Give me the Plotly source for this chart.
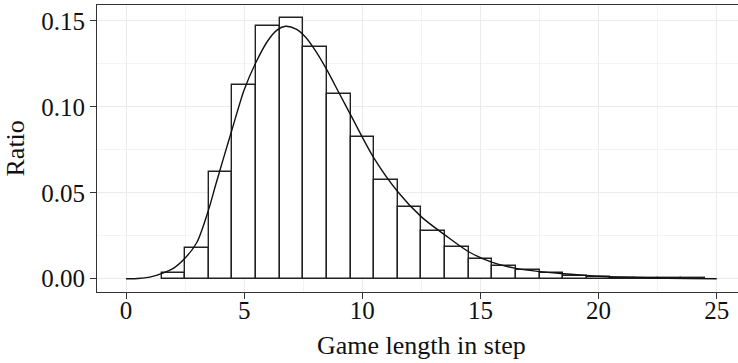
import plotly.graph_objects as go

# Histogram bars (bin centers and ratios)
bar_x = [2, 3, 4, 5, 6, 7, 8, 9, 10, 11, 12, 13, 14, 15, 16, 17, 18, 19, 20, 21, 22, 23, 24]
bar_y = [0.0035, 0.018, 0.0622, 0.1127, 0.1473, 0.152, 0.1348, 0.1073, 0.0826, 0.0574,
         0.0419, 0.0279, 0.0184, 0.0116, 0.0076, 0.0053, 0.0034, 0.0018, 0.0012, 0.0007,
         0.0004, 0.0003, 0.0002]

# Fitted curve points
curve_x = [0, 0.5, 1.0, 1.5, 2.0, 2.5, 3.0, 3.5, 3.8, 4.1, 4.5, 5.0, 5.5, 6.0, 6.4, 6.75,
           7.2, 7.6, 8.0, 8.5, 9.0, 9.5, 10.5, 11.5, 12.5, 13.5, 14.5, 15.5, 16.5, 17.5,
           18.5, 19.2, 20, 22.5, 25]
curve_y = [0, 0.0001, 0.0009, 0.0030, 0.0060, 0.0120, 0.0212, 0.0405, 0.0550, 0.0690,
           0.0875, 0.1100, 0.1260, 0.1385, 0.1448, 0.1469, 0.1452, 0.1405, 0.1330, 0.1215,
           0.1085, 0.0955, 0.0700, 0.0506, 0.0360, 0.0254, 0.0157, 0.0095, 0.0060, 0.0041,
           0.0029, 0.0022, 0.0014, 0.0004, 0.0000]

x_ticks = [0, 5, 10, 15, 20, 25]
y_ticks = [0.00, 0.05, 0.10, 0.15]
y_labels = ["0.00", "0.05", "0.10", "0.15"]

FONT = "Liberation Serif"

fig = go.Figure()
fig.add_trace(go.Bar(x=bar_x, y=bar_y, width=1.0,
                     marker=dict(color="white", line=dict(color="#222222", width=1.4)),
                     showlegend=False, hoverinfo="x+y"))
fig.add_trace(go.Scatter(x=curve_x, y=curve_y, mode="lines",
                         line=dict(color="#111111", width=1.4, shape="spline", smoothing=0.8),
                         showlegend=False))

fig.update_layout(
    width=738, height=363,
    margin=dict(l=97, r=0, t=5, b=71),
    paper_bgcolor="white", plot_bgcolor="white",
    bargap=0,
    font=dict(family=FONT, size=25, color="#111111"),
    xaxis=dict(range=[-1.23, 25.9], tickmode="array", tickvals=x_ticks,
               ticktext=[str(v) for v in x_ticks],
               showgrid=True, gridcolor="#ebebeb", gridwidth=1.2,
               minor=dict(dtick=2.5, tick0=0, showgrid=True, gridcolor="#f3f3f3", gridwidth=0.8),
               showline=True, linecolor="#333333", linewidth=1.2, mirror=True,
               ticks="outside", ticklen=6, tickcolor="#333333", tickwidth=1.2,
               ticklabelstandoff=-10, zeroline=False,
               tickfont=dict(family=FONT, size=25, color="#111111")),
    yaxis=dict(range=[-0.00773, 0.1593], tickmode="array", tickvals=y_ticks, ticktext=y_labels,
               showgrid=True, gridcolor="#ebebeb", gridwidth=1.2,
               minor=dict(dtick=0.025, tick0=0, showgrid=True, gridcolor="#f3f3f3", gridwidth=0.8),
               showline=True, linecolor="#333333", linewidth=1.2, mirror=False,
               ticks="outside", ticklen=6, tickcolor="#333333", tickwidth=1.2,
               ticklabelstandoff=0, zeroline=False,
               tickfont=dict(family=FONT, size=25, color="#111111")),
    annotations=[
        dict(text="Game length in step", xref="paper", yref="paper",
             x=(421.7 - 97) / (738 - 97), y=-(345 - 292) / (363 - 5 - 71),
             xanchor="center", yanchor="middle", showarrow=False,
             font=dict(family=FONT, size=26, color="#111111")),
        dict(text="Ratio", xref="paper", yref="paper",
             x=-(97 - 15) / (738 - 97), y=0.5, textangle=-90,
             xanchor="center", yanchor="middle", showarrow=False,
             font=dict(family=FONT, size=26, color="#111111")),
    ],
)

fig.write_html("out.html")
